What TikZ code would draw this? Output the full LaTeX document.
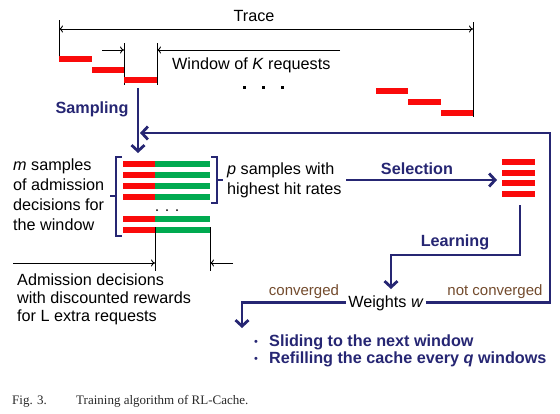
\documentclass[tikz,border=0pt]{standalone}
\usepackage{fontspec}
\setmainfont{Liberation Sans}
\newfontfamily\capfont{Liberation Serif}
\usetikzlibrary{arrows.meta}
\definecolor{navy}{RGB}{38,38,115}
\definecolor{barred}{RGB}{250,10,10}
\definecolor{bargreen}{RGB}{0,170,80}
\definecolor{brownlbl}{RGB}{115,75,45}
\definecolor{capgray}{RGB}{40,40,40}
\begin{document}
\begin{tikzpicture}[x=1pt,y=-1pt,
  txt/.style={font=\fontsize{16.2}{20}\selectfont, inner sep=0pt},
  bl/.style={txt, anchor=base west},
  bc/.style={txt, anchor=base},
  boldc/.style={inner sep=0pt, font=\fontsize{16.2}{20}\selectfont\bfseries, text=navy, anchor=base},
  boldl/.style={boldc, anchor=base west},
  bulletstyle/.style={inner sep=0pt, anchor=base west, font=\fontsize{11}{14}\selectfont, text=navy},
  small/.style={inner sep=0pt, anchor=base, font=\fontsize{15}{18}\selectfont, text=brownlbl},
  caption/.style={inner sep=0pt, anchor=base west, font=\capfont\fontsize{13}{16}\selectfont, text=capgray},
  dim/.style={draw=black, line width=0.9pt},
  tip/.style={-{To[length=4pt,width=7pt]}},
  dimarrow/.style={dim, tip},
  flow/.style={draw=navy, line width=2.8pt},
  flowarrow/.style={flow, -{Straight Barb[length=6pt,width=13pt]}},
  brack/.style={draw=navy, line width=2.4pt},
]
\useasboundingbox (0,0) rectangle (560,413);

% ---- trace
\coordinate (trL) at (59,29);
\coordinate (trR) at (473,29);
\draw[dim] (59,20) -- (59,62);
\draw[dim] (473,22) -- (473,117);
\draw[dim, {To[length=4pt,width=7pt]}-{To[length=4pt,width=7pt]}] (trL) -- (trR);
\node[bc] (trace) at (254,21) {Trace};

% ---- window
\draw[dim] (124,43) -- (124,85);
\draw[dim] (157,43) -- (157,85);
\coordinate (wA) at (102,50);
\coordinate (wL) at (124,50);
\coordinate (wB) at (340,50);
\coordinate (wR) at (157,50);
\draw[dimarrow] (wA) -- (wL);
\draw[dimarrow] (wB) -- (wR);
\node[bl] (win) at (172,69) {Window of \textit{K} requests};

% ---- request bars
\fill[barred] (59,56) rectangle (92,62);
\fill[barred] (92,67) rectangle (124,73);
\fill[barred] (124,77) rectangle (157,83);
\fill[barred] (376,88) rectangle (408,94);
\fill[barred] (408,99) rectangle (441,105);
\fill[barred] (441,110) rectangle (473,116);
\foreach \x in {243,262,281} \fill (\x,86) rectangle ++(3,3);

% ---- sampling
\coordinate (sampTop) at (138,88);
\coordinate (sampTip) at (138,153);
\draw[flowarrow] (sampTop) -- (sampTip);
\node[boldc] (sampling) at (92,113) {Sampling};

% ---- samples
\foreach \y in {164,175,186,197,219,230} {
  \fill[barred] (123,\y-3) rectangle (155,\y+3);
  \fill[bargreen] (155,\y-3) rectangle (210,\y+3);
}
\foreach \x in {157,167,177} \fill (\x,210) circle (1);
\draw[brack] (122,157) -- (116,157) -- (116,236) -- (122,236);
\draw[brack] (116,196) -- (110,196);
\draw[brack] (211,157) -- (217,157) -- (217,203) -- (211,203);
\draw[brack] (217,180) -- (223,180);

\node[bl] (m1) at (13,170) {\textit{m} samples};
\node[bl] (m2) at (13,190) {of admission};
\node[bl] (m3) at (13,210) {decisions for};
\node[bl] (m4) at (13,230) {the window};

\node[bl] (p1) at (227,174) {\textit{p} samples with};
\node[bl] (p2) at (227,194) {highest hit rates};

% ---- L extra
\draw[dim] (155,227) -- (155,271);
\draw[dim] (210,227) -- (210,271);
\coordinate (eA) at (13,263);
\coordinate (eL) at (155,263);
\coordinate (eB) at (233,263);
\coordinate (eR) at (210,263);
\draw[dimarrow] (eA) -- (eL);
\draw[dimarrow] (eB) -- (eR);
\node[bl] (a1) at (17,285) {Admission decisions};
\node[bl] (a2) at (17,303) {with discounted rewards};
\node[bl] (a3) at (17,321) {for L extra requests};

% ---- selection
\coordinate (selA) at (346,180);
\coordinate (selB) at (497,180);
\draw[flowarrow] (selA) -- (selB);
\node[boldc] (selection) at (417,174) {Selection};
\foreach \y in {162,173,183,194} \fill[barred] (502,\y-2.8) rectangle (535,\y+2.8);

% ---- learning
\coordinate (lrnA) at (520,205);
\coordinate (lrnB) at (391,255);
\coordinate (lrnTip) at (391,289);
\draw[flowarrow] (lrnA) |- (lrnB) -- (lrnTip);
\node[boldc] (learning) at (455,246) {Learning};

% ---- weights
\node[txt, anchor=base, inner sep=2pt] (wts) at (386,307) {Weights \textit{w}};
\coordinate (loopTR) at (550,133);
\coordinate (loopIn) at (140,133);
\draw[flowarrow] (wts.east) -| (loopTR) -- (loopIn);
\coordinate (slideTip) at (242,328);
\draw[flowarrow] (wts.west) -| (slideTip);
\node[small] (conv) at (304,295) {converged};
\node[small] (nconv) at (495,295) {not converged};

% ---- bullets
\node[bulletstyle] (b1) at (254,345) {\textbullet};
\node[boldl] (s1) at (269,346) {Sliding to the next window};
\node[bulletstyle] (b2) at (254,362) {\textbullet};
\node[boldl] (s2) at (269,363) {Refilling the cache every \textit{q} windows};

% ---- caption
\node[caption] (fig) at (12,404) {Fig. 3.};
\node[caption] (cap) at (76,404) {Training algorithm of RL-Cache.};
\end{tikzpicture}
\end{document}
